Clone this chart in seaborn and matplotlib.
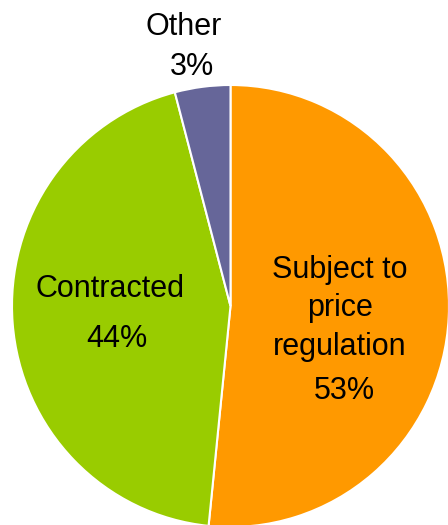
import matplotlib
matplotlib.use('Agg')
import matplotlib.pyplot as plt
import seaborn as sns

sns.set_theme(style='white')
plt.rcParams['font.family'] = ['Liberation Sans', 'DejaVu Sans']

# Data (shares as drawn, labels as printed)
categories = ['Subject to\nprice\nregulation', 'Contracted', 'Other']
shares = [51.6, 44.3, 4.1]
pct_labels = ['53%', '44%', '3%']
colors = ['#FF9900', '#99CC00', '#666699']

fig = plt.figure(figsize=(4.48, 5.25), dpi=100)
# pie is slightly taller than wide in the reference
ax = fig.add_axes([12 / 448, -2 / 525, 437 / 448, 442 / 525])

wedges, _ = ax.pie(shares, colors=colors, startangle=90, counterclock=False,
                   wedgeprops=dict(edgecolor='white', linewidth=1.5))
ax.set_xlim(-1, 1)
ax.set_ylim(-1, 1)
ax.set_aspect('auto')
ax.axis('off')

fs = 22
# category name positions (x, baseline y) in axes data units
name_pos = [(0.501, 0.128), (-0.551, 0.039), (-0.213, 1.227)]
pct_pos = [(0.519, -0.420), (-0.519, -0.185), (-0.176, 1.046)]

for name, pct, (nx, ny), (px, py) in zip(categories, pct_labels, name_pos, pct_pos):
    for i, line in enumerate(name.split('\n')):
        ax.text(nx, ny - i * 0.174, line, ha='center', va='baseline',
                fontsize=fs, color='black', clip_on=False)
    ax.text(px, py, pct, ha='center', va='baseline', fontsize=fs,
            color='black', clip_on=False)

fig.savefig('out.png', dpi=100, facecolor='white')
